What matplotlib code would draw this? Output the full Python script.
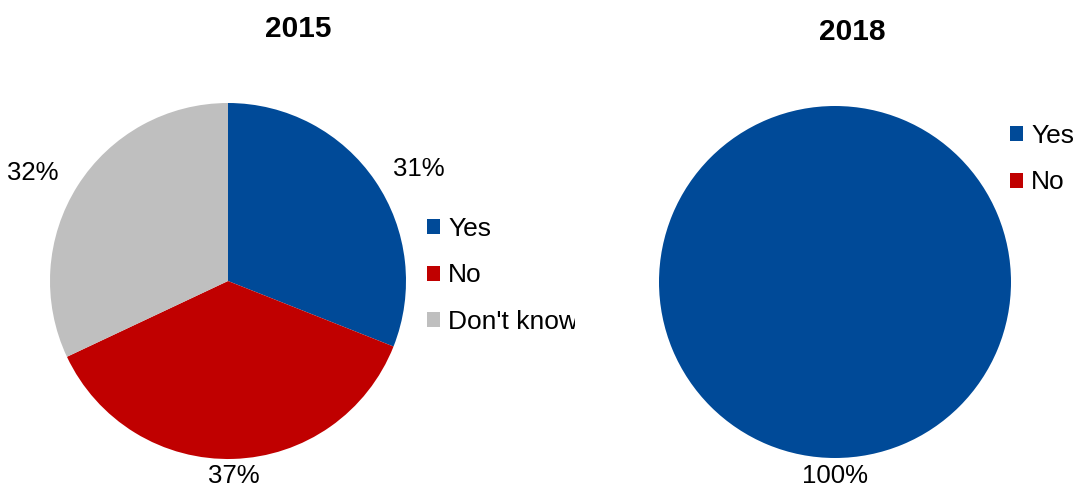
import matplotlib
matplotlib.use('Agg')
import numpy as np
import matplotlib.pyplot as plt
from matplotlib.transforms import Bbox

plt.rcParams['font.family'] = ['Liberation Sans', 'DejaVu Sans']

labels_2015 = ['Yes', 'No', "Don't know"]
values_2015 = [31, 37, 32]
labels_2018 = ['Yes', 'No']
values_2018 = [100, 0]

colors = ['#004A98', '#C00000', '#BFBFBF']

W, H = 1080, 488
fig = plt.figure(figsize=(W / 100, H / 100), dpi=100)


def pie_axes(cx, cy, r, pad=1.4):
    # place a square axes so that a unit pie lands at (cx, cy) px with radius r px
    R = r * pad
    ax = fig.add_axes([(cx - R) / W, (H - cy - R) / H, 2 * R / W, 2 * R / H])
    return ax, pad


def draw_pie(ax, pad, values, dists):
    wedges, _ = ax.pie(values, colors=colors[:len(values)], startangle=90,
                       counterclock=False, radius=1.0,
                       wedgeprops=dict(linewidth=0))
    # pie() resets the limits, so set them afterwards
    ax.set_xlim(-pad, pad)
    ax.set_ylim(-pad, pad)
    ax.set_aspect('equal')
    ax.axis('off')
    total = sum(values)
    for w, v, d in zip(wedges, values, dists):
        if v == 0:
            continue
        mid = np.deg2rad((w.theta1 + w.theta2) / 2)
        c, s = np.cos(mid), np.sin(mid)
        # outside-end labels, aligned away from the pie
        ha = 'left' if c > 0.5 else ('right' if c < -0.5 else 'center')
        va = 'bottom' if s > 0.8 else ('top' if s < -0.8 else 'center')
        ax.text(d * c, d * s, f'{round(100 * v / total)}%',
                ha=ha, va=va, fontsize=18.5, clip_on=False)
    return wedges


ax1, p1 = pie_axes(228, 281, 178)
w1 = draw_pie(ax1, p1, values_2015, [1.12, 1.03, 1.13])
ax2, p2 = pie_axes(835, 282, 176)
w2 = draw_pie(ax2, p2, values_2018, [1.035])

fig.text(298 / W, 1 - 29 / H, '2015', ha='center', va='center', fontsize=21.5, fontweight='bold')
fig.text(852 / W, 1 - 32.5 / H, '2018', ha='center', va='center', fontsize=21.5, fontweight='bold')

leg_kw = dict(frameon=False, fontsize=19, handlelength=0.5, handleheight=0.5,
              handletextpad=0.3, labelspacing=0.85, borderaxespad=0, borderpad=0)
leg1 = fig.legend(w1, labels_2015, loc='upper left',
                  bbox_to_anchor=(427 / W, 1 - 217 / H), **leg_kw)
leg2 = fig.legend(w2, labels_2018, loc='upper left',
                  bbox_to_anchor=(1010 / W, 1 - 124 / H), **leg_kw)

# the original clips the legend text at the plot area edge
clip = Bbox.from_extents(0, 0, 575, H)
for t in leg1.get_texts():
    t.set_clip_box(clip)
    t.set_clip_on(True)

fig.savefig('out.png', dpi=100, facecolor='white')
